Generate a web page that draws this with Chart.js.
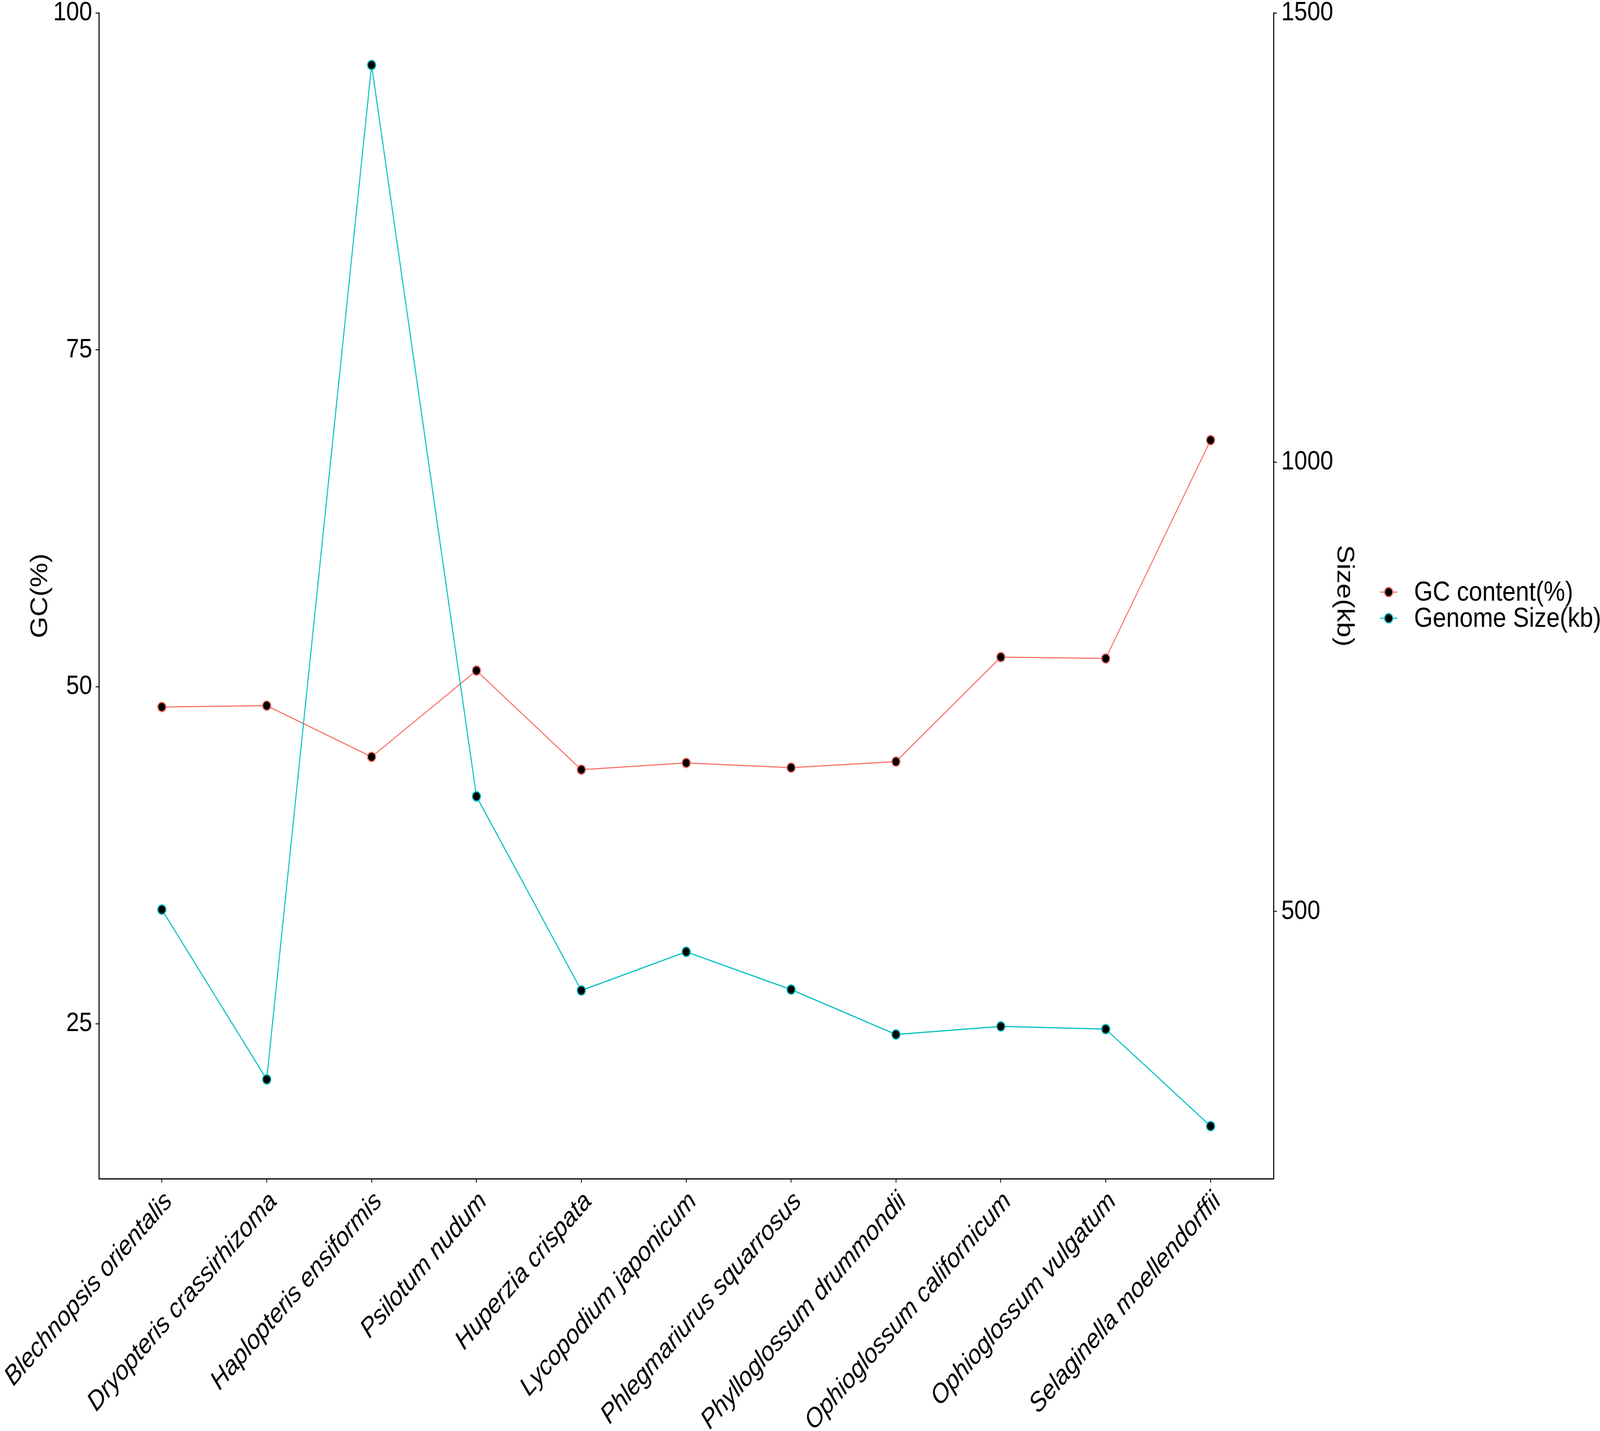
<!DOCTYPE html>
<html>
<head>
<meta charset="utf-8">
<title>GC content and genome size</title>
<script src="https://cdn.jsdelivr.net/npm/chart.js@4.4.1/dist/chart.umd.min.js"></script>
<style>
    html, body { margin: 0; padding: 0; background: #ffffff; overflow: hidden; }
    #frame { position: relative; overflow: hidden; }
    #wrap { position: absolute; left: 0; top: 0; width: 4724px; height: 3664px; transform-origin: 0 0; }
</style>
</head>
<body>
<div id="frame"><div id="wrap"><canvas id="gcChart" width="4724" height="3664"></canvas></div></div>
<script>
// Species on the x axis
const species = [
    'Blechnopsis orientalis', 'Dryopteris crassirhizoma', 'Haplopteris ensiformis',
    'Psilotum nudum', 'Huperzia crispata', 'Lycopodium japonicum',
    'Phlegmariurus squarrosus', 'Phylloglossum drummondii', 'Ophioglossum californicum',
    'Ophioglossum vulgatum', 'Selaginella moellendorffii'
];

// GC content (%) - left axis
const gcContent = [48.5, 48.6, 44.8, 51.2, 43.85, 44.35, 44.0, 44.45, 52.2, 52.1, 68.3];

// Genome size (kb) - right axis
const genomeSize = [502, 313, 1442, 628, 412, 455, 413, 363, 372, 369, 261];

// Tick labels
const gcTicks = [25, 50, 75, 100];
const sizeTicks = [500, 1000, 1500];

// right axis is the left axis times this factor
const sizeFactor = 15;
const gcMin = 13.5;
const gcMax = 100;

const gcColor = '#F8766D';
const sizeColor = '#00BFC4';
const FONT = "'Liberation Sans', Arial, sans-serif";

// the window is not always 4724x3664 css px, so stretch the drawing over it
const frame = document.getElementById('frame');
const wrap = document.getElementById('wrap');
const viewW = window.innerWidth || 4724;
const viewH = window.innerHeight || 3664;
frame.style.width = viewW + 'px';
frame.style.height = viewH + 'px';
wrap.style.transform = 'scale(' + (viewW / 4724) + ',' + (viewH / 3664) + ')';

Chart.defaults.font.family = FONT;
Chart.defaults.color = '#000000';

function toPoints(values) {
    return values.map((v, i) => ({ x: i, y: v }));
}

function seriesStyle(color) {
    return {
        borderColor: color,
        backgroundColor: color,
        borderWidth: 3,
        pointRadius: 12,
        pointBorderWidth: 3,
        pointBackgroundColor: '#000000',
        pointBorderColor: color,
        tension: 0,
        fill: false
    };
}

const axisGrid = {
    display: true,
    drawOnChartArea: false,
    drawTicks: true,
    tickLength: 10,
    tickWidth: 3,
    tickColor: '#333333'
};

const axisBorder = { display: true, color: '#000000', width: 3 };

// Legend drawn at the right, line + point keys like the original
const sideLegend = {
    id: 'sideLegend',
    afterDraw(chart) {
        const c = chart.ctx;
        const area = chart.chartArea;
        const keyX = area.right + 340;
        const textX = area.right + 415;
        const rows = [1516, 1583];
        c.save();
        chart.data.datasets.forEach((ds, i) => {
            const y = rows[i];
            c.strokeStyle = ds.borderColor;
            c.lineWidth = 3;
            c.beginPath();
            c.moveTo(keyX - 25, y);
            c.lineTo(keyX + 25, y);
            c.stroke();
            c.beginPath();
            c.arc(keyX, y, 12, 0, Math.PI * 2);
            c.fillStyle = '#000000';
            c.fill();
            c.stroke();
            c.fillStyle = '#000000';
            c.font = '71px ' + FONT;
            c.textAlign = 'left';
            c.textBaseline = 'middle';
            c.fillText(ds.label, textX, y + 2);
        });
        c.restore();
    }
};

const ctx = document.getElementById('gcChart');

new Chart(ctx, {
    type: 'line',
    data: {
        datasets: [
            Object.assign({ label: 'GC content(%)', data: toPoints(gcContent), yAxisID: 'y', order: 1 }, seriesStyle(gcColor)),
            Object.assign({ label: 'Genome Size(kb)', data: toPoints(genomeSize), yAxisID: 'y2', order: 0 }, seriesStyle(sizeColor))
        ]
    },
    options: {
        responsive: false,
        animation: false,
        devicePixelRatio: 1,
        layout: { padding: { top: 33, left: 0, right: 713, bottom: 0 } },
        plugins: {
            legend: { display: false },
            tooltip: { enabled: false }
        },
        scales: {
            x: {
                type: 'linear',
                min: -0.6,
                max: species.length - 0.4,
                afterBuildTicks: s => { s.ticks = species.map((_, i) => ({ value: i })); },
                afterFit: s => { s.height = 646; s.paddingLeft = 0; s.paddingRight = 0; },
                grid: axisGrid,
                border: axisBorder,
                ticks: {
                    autoSkip: false,
                    minRotation: 45,
                    maxRotation: 45,
                    padding: 8,
                    labelOffset: 20,
                    color: '#000000',
                    font: { size: 69, style: 'italic' },
                    callback: v => species[v]
                }
            },
            y: {
                position: 'left',
                min: gcMin,
                max: gcMax,
                afterBuildTicks: s => { s.ticks = gcTicks.map(v => ({ value: v })); },
                afterFit: s => { s.width = 292; s.paddingTop = 0; s.paddingBottom = 0; },
                grid: axisGrid,
                border: axisBorder,
                ticks: { padding: 10, color: '#000000', font: { size: 69 }, callback: v => String(v) },
                title: {
                    display: true,
                    text: 'GC(%)',
                    color: '#000000',
                    font: { size: 71 },
                    padding: { top: 77, bottom: 0 }
                }
            },
            y2: {
                position: 'right',
                min: gcMin * sizeFactor,
                max: gcMax * sizeFactor,
                afterBuildTicks: s => { s.ticks = sizeTicks.map(v => ({ value: v })); },
                afterFit: s => { s.width = 251; s.paddingTop = 0; s.paddingBottom = 0; },
                grid: axisGrid,
                border: axisBorder,
                ticks: { padding: 13, color: '#000000', font: { size: 69 }, callback: v => String(v) },
                title: {
                    display: true,
                    text: 'Size(kb)',
                    color: '#000000',
                    font: { size: 71 },
                    padding: { top: 0, bottom: 0 }
                }
            }
        }
    },
    plugins: [sideLegend]
});
</script>
</body>
</html>
